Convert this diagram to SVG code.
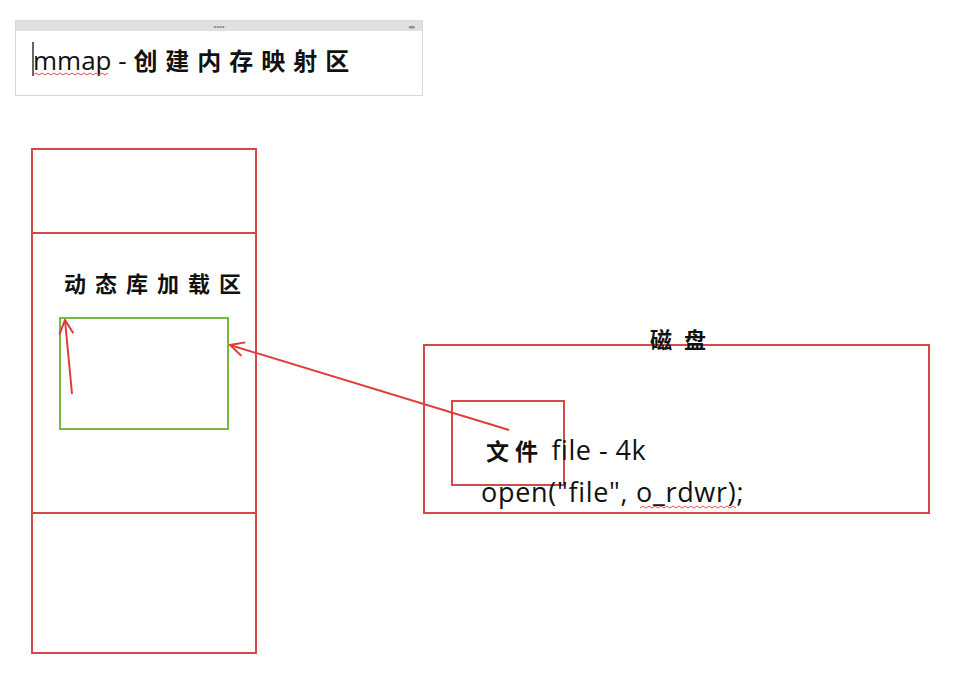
<svg xmlns="http://www.w3.org/2000/svg" width="964" height="680" viewBox="0 0 964 680">
<style>
.red{fill:none;stroke:#d24a4a;stroke-width:2}
.grn{fill:none;stroke:#76b840;stroke-width:2}
.cn{font-family:"Noto Sans CJK SC","Noto Sans CJK JP",sans-serif;fill:#111;font-weight:bold}
.lat{font-family:"Open Sans","Noto Sans","Liberation Sans",sans-serif;fill:#111}
.wave{fill:none;stroke:#e05050;stroke-width:1}
</style>
<defs>
<marker id="ah" markerWidth="16" markerHeight="16" refX="15" refY="8" orient="auto" markerUnits="userSpaceOnUse">
<path d="M1,1 L15,8 L1,15" fill="none" stroke="#e03c3c" stroke-width="2"/>
</marker>
</defs>
<rect width="964" height="680" fill="#fff"/>
<g id="title">
<rect x="15.5" y="20.5" width="407" height="75" fill="#fff" stroke="#d8d8d8"/>
<rect x="16" y="21" width="406" height="10" fill="#e0e0e0"/>
<text x="219" y="29" font-family="Liberation Sans,sans-serif" font-size="8" fill="#888" text-anchor="middle">••••</text>
<text x="412" y="29" font-family="Liberation Sans,sans-serif" font-size="7" fill="#888" text-anchor="middle">◂▸</text>
<line x1="33" y1="42" x2="33" y2="76" stroke="#333" stroke-width="1.5"/>
<text x="33" y="70" class="lat" font-size="26">mmap - <tspan class="cn" font-size="24" letter-spacing="8">创建内存映射区</tspan></text>
<path class="wave" d="M33,75 l3,-2 l3,2 l3,-2 l3,2 l3,-2 l3,2 l3,-2 l3,2 l3,-2 l3,2 l3,-2 l3,2 l3,-2 l3,2 l3,-2 l3,2 l3,-2 l3,2 l3,-2 l3,2 l3,-2 l3,2 l3,-2 l3,2 l3,-2"/>
</g>
<g id="memory">
<rect class="red" x="32" y="149" width="224" height="504"/>
<line class="red" x1="32" y1="233" x2="256" y2="233"/>
<line class="red" x1="32" y1="513" x2="256" y2="513"/>
</g>
<g id="dynlib">
<text x="64" y="292" class="cn" font-size="22" letter-spacing="9">动态库加载区</text>
<rect class="grn" x="60" y="318" width="168" height="111"/>
</g>
<g id="disk">
<rect class="red" x="424" y="345" width="505" height="168"/>
<text x="650" y="348" class="cn" font-size="22" letter-spacing="12">磁盘</text>
</g>
<g id="file">
<rect class="red" x="452" y="401" width="112" height="84"/>
<text x="486" y="460" class="lat" font-size="27" letter-spacing="0.5"><tspan class="cn" font-size="23" letter-spacing="6">文件</tspan> file - 4k</text>
<text x="481" y="502" class="lat" font-size="27" letter-spacing="0.7">open("file", o_rdwr);</text>
<path class="wave" d="M640,508 l3,-2 l3,2 l3,-2 l3,2 l3,-2 l3,2 l3,-2 l3,2 l3,-2 l3,2 l3,-2 l3,2 l3,-2 l3,2 l3,-2 l3,2 l3,-2 l3,2 l3,-2 l3,2 l3,-2 l3,2 l3,-2 l3,2 l3,-2 l3,2 l3,-2 l3,2 l3,-2 l3,2 l3,-2 l3,2"/>
</g>
<g id="connectors">
<line x1="509" y1="430" x2="230" y2="345" stroke="#e03c3c" stroke-width="2" marker-end="url(#ah)"/>
<line x1="72" y1="394" x2="65" y2="320" stroke="#e03c3c" stroke-width="2" marker-end="url(#ah)"/>
</g>
</svg>
